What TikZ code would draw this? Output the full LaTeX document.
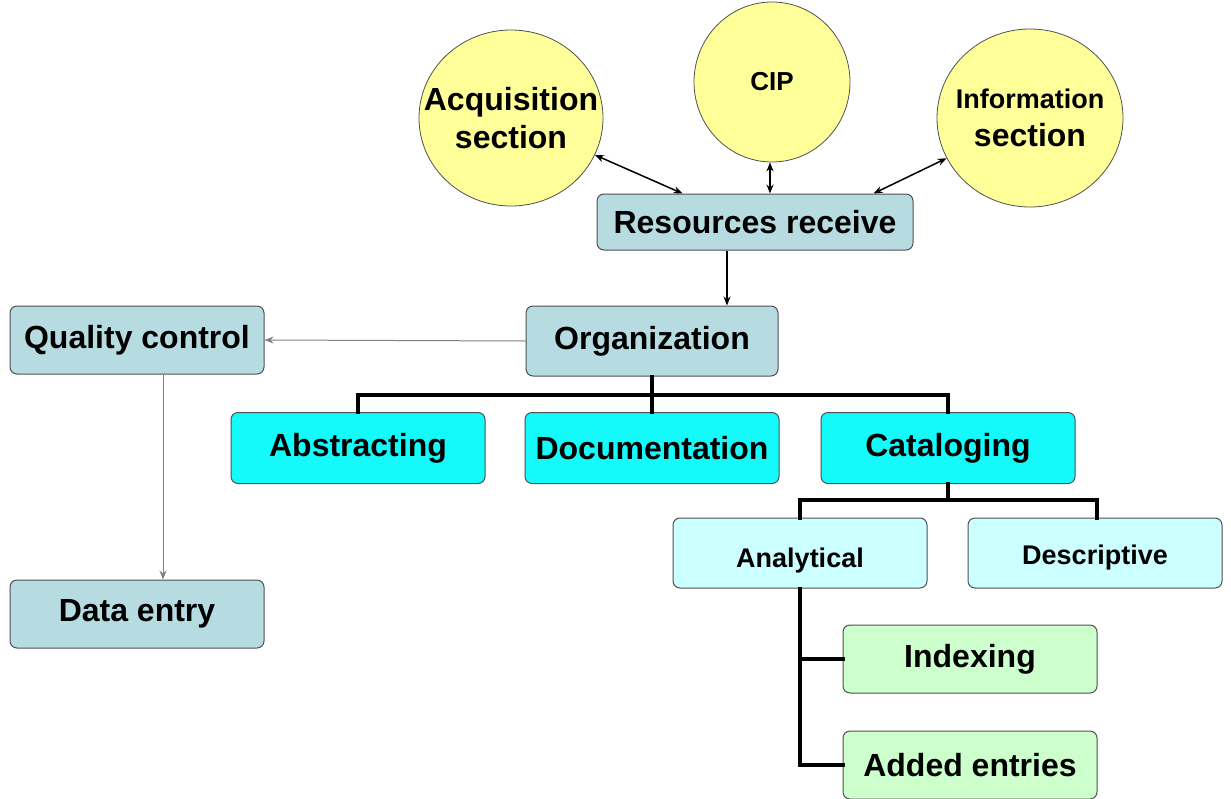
\documentclass[tikz,border=0pt]{standalone}
\usepackage{fontspec}
\setmainfont{Liberation Sans}
\usetikzlibrary{shapes.geometric,arrows.meta}
\definecolor{sunfill}{HTML}{FFFF99}
\definecolor{slatefill}{HTML}{B6DCE1}
\definecolor{aquafill}{HTML}{14FAFA}
\definecolor{icefill}{HTML}{CCFFFF}
\definecolor{mintfill}{HTML}{CCFFCC}
\definecolor{edgegray}{HTML}{505050}
\begin{document}
\begin{tikzpicture}[x=1pt, y=-1pt, >={Stealth[length=9pt,width=7pt]},
    main node/.style={rectangle, rounded corners=7pt, draw=edgegray, line width=1pt, minimum width=254pt, minimum height=68pt, inner sep=0pt, font=\bfseries\fontsize{32}{36}\selectfont},
    sun node/.style={ellipse, draw=edgegray, line width=0.8pt, fill=sunfill, align=center, inner xsep=-45pt, inner ysep=0pt, font=\bfseries\fontsize{32}{38}\selectfont},
    small text/.style={font=\bfseries\fontsize{27}{30}\selectfont, text height=30pt, text depth=2pt},
    tree/.style={-, line width=4pt, line cap=rect}]
        \tikzstyle{every node}=[text=black]
        \useasboundingbox (0,0) rectangle (1231,798);

          % top circles
          \node[sun node, minimum width=184pt, minimum height=176pt] (1) at (511,118) {Acquisition\\section};
          \node[sun node, minimum width=156pt, minimum height=160pt] (2) at (772,82) {\fontsize{26}{28}\selectfont CIP};
          \node[sun node, minimum width=186pt, minimum height=178pt] (3) at (1030,118) {{\fontsize{27}{30}\selectfont Information}\\section};

          % boxes
          \node[main node, fill=slatefill, minimum width=316pt, minimum height=56pt] (4) at (755,222) {Resources receive};
          \node[main node, fill=slatefill, minimum width=252pt, minimum height=70pt] (5) at (652,341) {Organization};
          \node[main node, fill=slatefill] (6) at (137,340) {Quality control};
          \node[main node, fill=slatefill] (7) at (137,614) {Data entry};
          \node[main node, fill=aquafill, minimum height=71pt] (8) at (358,448) {Abstracting};
          \node[main node, fill=aquafill, minimum height=71pt] (9) at (652,448) {Documentation};
          \node[main node, fill=aquafill, minimum height=71pt] (10) at (948,448) {Cataloging};
          \node[main node, fill=icefill, minimum height=70pt, small text] (11) at (800,553) {Analytical};
          \node[main node, fill=icefill, minimum height=70pt, small text, text height=24pt, text depth=2pt] (12) at (1095,553) {Descriptive};
          \node[main node, fill=mintfill] (13) at (970,659) {Indexing};
          \node[main node, fill=mintfill] (14) at (970,765) {Added entries};

          % arrows
          \draw[<->, line width=1.5pt] (1) -- ([xshift=86pt]4.north west);
          \draw[<->, line width=1.5pt] (2.south -| 770,0) -- (4.north -| 770,0);
          \draw[<->, line width=1.5pt] (3) -- ([xshift=-40pt]4.north east);
          \draw[->, line width=1.2pt] ([xshift=-28pt]4.south) coordinate (r) -- (r |- 5.north);
          \draw[->, line width=1pt, draw=gray] (5.west) -- (6.east);
          \draw[->, line width=1pt, draw=gray] ([xshift=26pt]6.south) -- ([xshift=26pt]7.north);

          % tree lines
          \coordinate (b1) at (652,395);
          \coordinate (b2) at (948,500);
          \draw[tree] (5.south) -- (9.north);
          \draw[tree] (b1) -| (8.north);
          \draw[tree] (b1) -| (10.north);
          \draw[tree] (10.south) -- (b2) -| (11.north);
          \draw[tree] (b2) -| ([xshift=2pt]12.north);
          \draw[tree] (11.south) |- (13.west);
          \draw[tree] (11.south) |- (14.west);
              
        \end{tikzpicture}
\end{document}
